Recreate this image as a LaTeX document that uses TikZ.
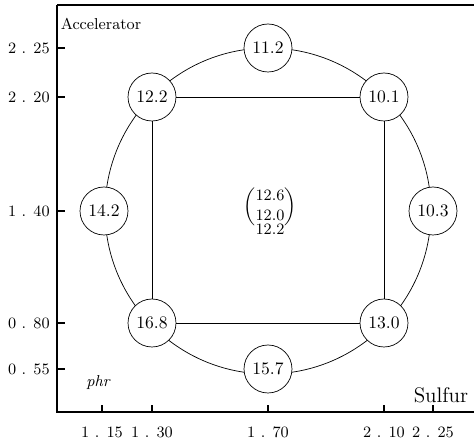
\documentclass[tikz,border=0pt]{standalone}
\usepackage{amsmath}
\usetikzlibrary{positioning}

\begin{document}
\begin{tikzpicture}[x=0.02cm, y=0.02cm,
  val/.style={circle, draw, thin, fill=white, minimum size=0.96cm, inner sep=0pt},
  ytick/.style={anchor=east, inner sep=0pt, font=\small},
  xtick/.style={inner sep=0pt, font=\small}]
  \useasboundingbox (0,0) rectangle (474,443);
  % axes (1 unit = 1 px of the scan)
  \coordinate (top) at (57,438);
  \coordinate (orig) at (57,31);
  \coordinate (xend) at (474,31);
  \coordinate (tend) at (474,438);
  \draw[thick] (top) -- (orig) -- (xend);
  \draw[semithick] (top) -- (tend);
  % accelerator ticks
  \draw[semithick] (57,395) -- ++(8,0);
  \node[ytick] (y225) at (50,395) {2 . 25};
  \draw[semithick] (57,346) -- ++(8,0);
  \node[ytick] (y220) at (50,346) {2 . 20};
  \draw[semithick] (57,232) -- ++(8,0);
  \node[ytick] (y140) at (50,232) {1 . 40};
  \draw[semithick] (57,120) -- ++(8,0);
  \node[ytick] (y080) at (50,120) {0 . 80};
  \draw[semithick] (57,74) -- ++(8,0);
  \node[ytick] (y055) at (50,74) {0 . 55};
  % sulfur ticks
  \draw[semithick] (102,31) -- ++(0,7);
  \node[xtick] (x115) at (102,11) {1 . 15};
  \draw[semithick] (152,31) -- ++(0,7);
  \node[xtick] (x130) at (152,11) {1 . 30};
  \draw[semithick] (268,31) -- ++(0,7);
  \node[xtick] (x170) at (268,11) {1 . 70};
  \draw[semithick] (384,31) -- ++(0,7);
  \node[xtick] (x210) at (384,11) {2 . 10};
  \draw[semithick] (433,31) -- ++(0,7);
  \node[xtick] (x225) at (433,11) {2 . 25};
  % axis names
  \node[font=\small] (acc) at (101,419) {Accelerator};
  \node[font=\large] (sul) at (441,48) {Sulfur};
  \node[font=\small\itshape] (phr) at (98,60) {phr};
  % outer circle
  \draw[thin] (268,232) circle[radius=163];
  % design points
  \node[val] (n122) at (152,346) {12.2};
  \node[val] (n112) at (268,395) {11.2};
  \node[val] (n101) at (384,346) {10.1};
  \node[val] (n142) at (104,232) {14.2};
  \node[val] (n103) at (433,232) {10.3};
  \node[val] (n168) at (152,120) {16.8};
  \node[val] (n157) at (268,74) {15.7};
  \node[val] (n130) at (384,120) {13.0};
  % square
  \draw[thin] (n122) -- (n101);
  \draw[thin] (n101) -- (n130);
  \draw[thin] (n130) -- (n168);
  \draw[thin] (n168) -- (n122);
  % centre point
  \node[align=center, font=\small, inner sep=0pt] (mid) at (270,232)
    {$\left(\begin{tabular}{@{}c@{}}12.6\\12.0\end{tabular}\right)$\\[-2pt]12.2};
\end{tikzpicture}
\end{document}
